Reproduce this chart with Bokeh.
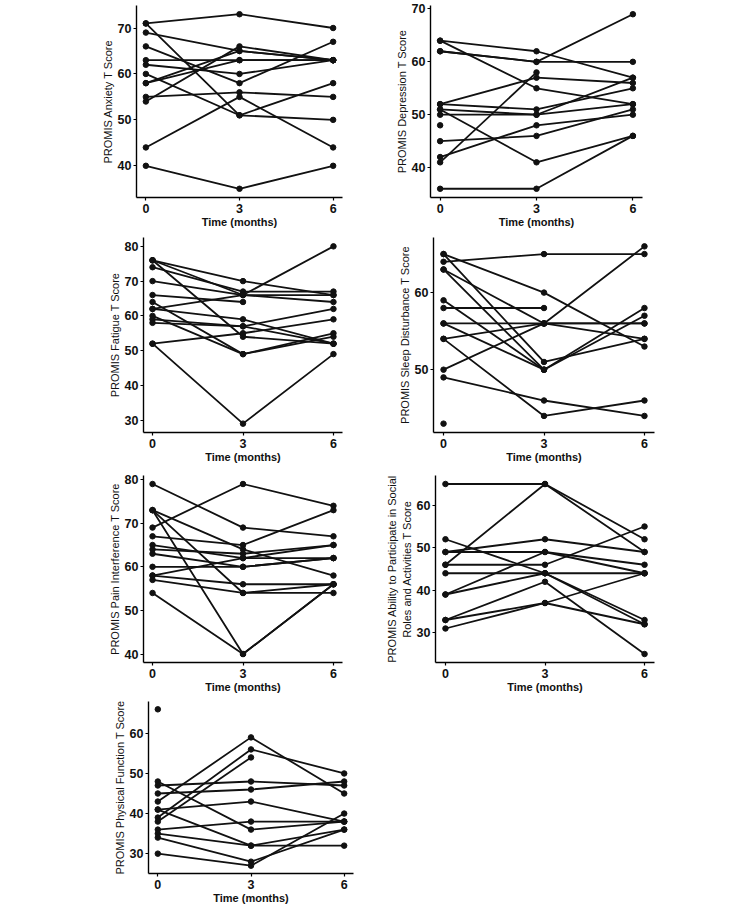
from bokeh.plotting import figure
from bokeh.layouts import column, row
from bokeh.models import Range1d, FixedTicker
from bokeh.embed import file_html
from bokeh.resources import INLINE

# Assessment time points (months)
months = [0, 3, 6]

# PROMIS T scores per participant at 0, 3 and 6 months (None = not collected)
anxiety_m0 = [71, 71, 69, 66, 63, 62, 60, 58, 58, 54, 55, 44, 40]
anxiety_m3 = [73, 51, 65, 58, 63, 60, 51, 65, 63, 66, 56, 55, 35]
anxiety_m6 = [70, 58, 63, 67, 63, 63, 50, 63, 63, 63, 55, 44, 40]
anxiety_ticks = [40, 50, 60, 70]

depression_m0 = [64, 64, 62, 62, 41, 52, 52, 51, 50, 51, 48, 45, 42, 36]
depression_m3 = [62, 55, 60, 60, 58, 57, 51, 50, 50, 41, None, 46, 48, 36]
depression_m6 = [57, 52, 60, 69, None, 56, 55, 57, 52, 46, None, 51, 50, 46]
depression_ticks = [40, 50, 60, 70]

fatigue_m0 = [76, 76, 76, 74, 70, 66, 62, 64, 62, 60, 59, 52, 52, 58]
fatigue_m3 = [70, 66, 54, 67, 66, 64, 66, 49, 59, 49, 57, 55, 29, 57]
fatigue_m6 = [66, 64, 52, 67, 66, None, 80, 55, 52, 54, 62, 59, 49, 52]
fatigue_ticks = [30, 40, 50, 60, 70, 80]

sleep_m0 = [64, 65, 65, 63, 63, 59, 58, 56, 56, 54, 54, 50, 49, 43]
sleep_m3 = [65, 60, 51, 56, 50, 50, 58, 56, 50, 56, 44, 56, 46, None]
sleep_m6 = [65, 53, 54, 54, 58, 57, None, 56, None, 56, 46, 66, 44, None]
sleep_ticks = [50, 60]

pain_m0 = [79, 69, 73, 73, 73, 67, 65, 64, 63, 60, 58, 58, 57, 54]
pain_m3 = [69, 79, 64, 40, 54, 65, 62, 63, 60, 60, 62, 56, 54, 40]
pain_m6 = [67, 74, 58, 56, 54, 73, 62, 65, 62, 62, 65, 56, 56, 56]
pain_ticks = [40, 50, 60, 70, 80]

social_m0 = [65, 46, 52, 49, 49, 46, 44, 39, 39, 33, 33, 31]
social_m3 = [65, 65, 44, 52, 49, 46, 44, 49, 44, 42, 37, 37]
social_m6 = [52, 49, 33, 49, 46, 55, 44, 44, 32, 25, 32, 44]
social_ticks = [30, 40, 50, 60]

physical_m0 = [66, 43, 39, 38, 48, 47, 45, 41, 36, 41, 35, 34, 30]
physical_m3 = [None, 59, 56, 54, 36, 48, 46, 43, 38, 32, 32, 28, 27]
physical_m6 = [None, 45, 50, None, 38, 47, 48, 38, 38, 32, 36, 36, 40]
physical_ticks = [30, 40, 50, 60]

x_ticks = [0, 3, 6]

FONT = "Liberation Sans"
INK = "#111111"
NAN = float("nan")


def panel(ylabel, m0, m3, m6, yticks, width, height, left, right, top, bottom):
    vals = [v for v in m0 + m3 + m6 if v is not None]
    lo, hi = min(vals), max(vals)
    pad = 0.05 * (hi - lo)
    p = figure(width=width, height=height, output_backend="svg",
               toolbar_location=None, tools="",
               x_range=Range1d(-0.3, 6.3), y_range=Range1d(lo - pad, hi + pad),
               min_border_left=left, min_border_right=right,
               min_border_top=top, min_border_bottom=bottom)
    p.outline_line_color = None
    p.background_fill_color = "white"
    p.border_fill_color = "white"
    p.xgrid.visible = False
    p.ygrid.visible = False

    p.xaxis.ticker = FixedTicker(ticks=x_ticks)
    p.yaxis.ticker = FixedTicker(ticks=yticks)
    p.xaxis.axis_label = "Time (months)"
    p.yaxis.axis_label = ylabel
    for ax in (p.xaxis, p.yaxis):
        ax.axis_line_color = "black"
        ax.axis_line_width = 1.4
        ax.major_tick_line_color = "black"
        ax.major_tick_line_width = 1.2
        ax.major_tick_in = 0
        ax.major_tick_out = 3
        ax.minor_tick_line_color = None
        ax.major_label_text_font = FONT
        ax.major_label_text_font_size = "12.5px"
        ax.major_label_text_font_style = "bold"
        ax.major_label_text_color = INK
        ax.axis_label_text_font = FONT
        ax.axis_label_text_color = INK
    p.xaxis.axis_label_text_font_size = "11px"
    p.xaxis.axis_label_text_font_style = "bold"
    p.yaxis.axis_label_text_font_size = "11px"
    p.yaxis.axis_label_text_font_style = "normal"
    p.xaxis.major_label_standoff = 3
    p.xaxis.axis_label_standoff = 0
    p.yaxis.major_label_standoff = 2
    p.yaxis.axis_label_standoff = 1

    pts_x, pts_y = [], []
    for a, b, c in zip(m0, m3, m6):
        ys = [NAN if v is None else v for v in (a, b, c)]
        p.line(months, ys, line_color=INK, line_width=1.8)
        for t, v in zip(months, (a, b, c)):
            if v is not None:
                pts_x.append(t)
                pts_y.append(v)
    p.scatter(pts_x, pts_y, size=5.5, fill_color=INK, line_color=INK)
    return p


pA = panel("PROMIS Anxiety T Score", anxiety_m0, anxiety_m3, anxiety_m6,
           anxiety_ticks, 380, 230, 136, 38, 3, 33)
pB = panel("PROMIS Depression T Score", depression_m0, depression_m3, depression_m6,
           depression_ticks, 370, 230, 50, 108, 5, 31)
pC = panel("PROMIS Fatigue T Score", fatigue_m0, fatigue_m3, fatigue_m6,
           fatigue_ticks, 380, 238, 143, 38, 7, 36)
pD = panel("PROMIS Sleep Disturbance T Score", sleep_m0, sleep_m3, sleep_m6,
           sleep_ticks, 370, 238, 53, 96, 6, 32)
pE = panel("PROMIS Pain Interference T Score", pain_m0, pain_m3, pain_m6,
           pain_ticks, 380, 227, 143, 38, 6, 31)
pF = panel("PROMIS Ability to Participate in Social\nRoles and Activities T Score",
           social_m0, social_m3, social_m6,
           social_ticks, 370, 227, 55, 96, 7, 32)
pG = panel("PROMIS Physical Function T Score", physical_m0, physical_m3, physical_m6,
           physical_ticks, 380, 213, 148, 27, 6, 35)

layout = column(row(pA, pB), row(pC, pD), row(pE, pF), row(pG))

with open("out.html", "w") as f:
    f.write(file_html(layout, INLINE))
